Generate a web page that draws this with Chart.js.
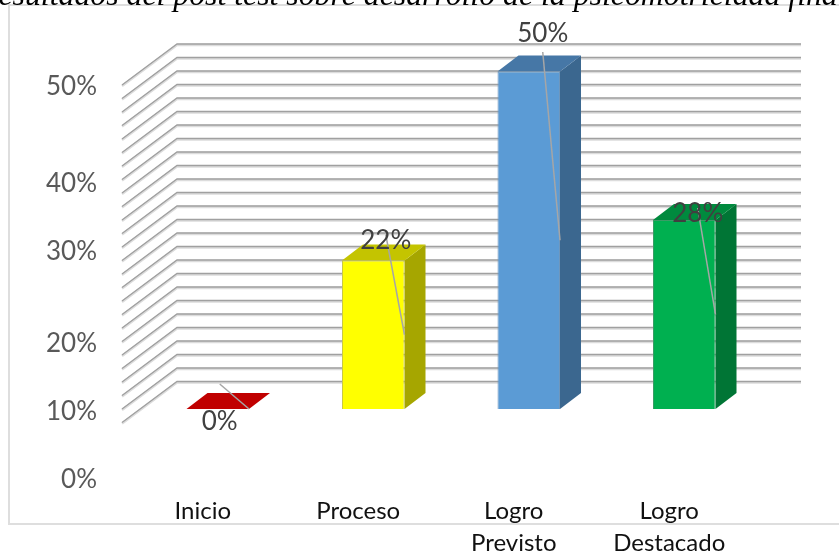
<!DOCTYPE html>
<html><head><meta charset="utf-8">
<style>html,body{margin:0;padding:0;background:#fff}canvas{display:block}</style>
<script src="https://cdn.jsdelivr.net/npm/chart.js@4"></script>
</head><body><canvas id="c" width="839" height="556"></canvas>
<script>
const titleText = "Resultados del post test sobre desarrollo de la psicomotricidad final";
const categories = [["Inicio"], ["Proceso"], ["Logro", "Previsto"], ["Logro", "Destacado"]];
const percentValues = [0, 22, 50, 28];
const frontColors = ["#c00000", "#ffff00", "#5b9bd5", "#00b050"];
const topColors = ["#c00000", "#c4c400", "#4677a6", "#008a3e"];
const sideColors = ["#8f0000", "#a6a600", "#3b678f", "#007535"];
const edgeColors = ["#a84a4a", "#c8c84a", "#6f97bd", "#3a9c66"];
const yTickValues = [47.7, 33.33, 23.26, 9.63, -0.45, -10.5];
const yTickLabels = ["50%", "40%", "30%", "20%", "10%", "0%"];
const gridValues = [-2, 0, 2, 4, 6, 8, 10, 12, 14, 16, 18, 20, 22, 24, 26, 28, 30, 32, 34, 36, 38, 40, 42, 44, 46, 48];
const labelShiftX = [2, 12.5, 14, 13.5];
const labelShiftY = [13, -20, -37.5, -6];
const leaderStartY = [-38, -6, 18, -6];

const wallDx = 55, wallDy = 41, barDx = 21, barDy = 16;

const depthPlugin = {
  id: "depth",
  beforeDatasetsDraw(chart) {
    const { ctx, chartArea, scales: { y } } = chart;
    ctx.save();
    // frame
    ctx.strokeStyle = "#dedede"; ctx.lineWidth = 2;
    ctx.beginPath(); ctx.moveTo(839, 5); ctx.lineTo(9, 5); ctx.lineTo(9, 524); ctx.lineTo(839, 524); ctx.stroke();
    // title
    ctx.fillStyle = "#000"; ctx.font = "italic 31.8px 'Liberation Serif'"; ctx.textAlign = "left"; ctx.textBaseline = "alphabetic";
    ctx.fillText(titleText, -21, 5);
    // perspective grid
    const fx = chartArea.left - 18, bx = fx + wallDx, rx = 801;
    gridValues.forEach(v => {
      const py = y.getPixelForValue(v);
      ctx.strokeStyle = "#dcdcdc"; ctx.lineWidth = 2.5;
      ctx.beginPath(); ctx.moveTo(fx, py + 1); ctx.lineTo(bx, py - wallDy + 1); ctx.lineTo(rx, py - wallDy + 1); ctx.stroke();
      ctx.strokeStyle = "#a0a0a0"; ctx.lineWidth = 1.3;
      ctx.beginPath(); ctx.moveTo(fx, py); ctx.lineTo(bx, py - wallDy); ctx.lineTo(rx, py - wallDy); ctx.stroke();
    });
    // bar depth faces
    chart.getDatasetMeta(0).data.forEach((bar, i) => {
      const l = bar.x - bar.width / 2, r = bar.x + bar.width / 2, t = bar.y, b = bar.base;
      ctx.fillStyle = sideColors[i];
      ctx.beginPath(); ctx.moveTo(r, t); ctx.lineTo(r + barDx, t - barDy); ctx.lineTo(r + barDx, b - barDy); ctx.lineTo(r, b); ctx.closePath(); ctx.fill();
      ctx.fillStyle = topColors[i];
      ctx.beginPath(); ctx.moveTo(l, t); ctx.lineTo(l + barDx, t - barDy); ctx.lineTo(r + barDx, t - barDy); ctx.lineTo(r, t); ctx.closePath(); ctx.fill();
    });
    ctx.restore();
  },
  afterDatasetsDraw(chart) {
    const { ctx } = chart;
    ctx.save();
    chart.getDatasetMeta(0).data.forEach((bar, i) => {
      const r = bar.x + bar.width / 2;
      const lx = bar.x + labelShiftX[i], ly = bar.y + labelShiftY[i];
      ctx.strokeStyle = "#a6a6a6"; ctx.lineWidth = 1.5;
      ctx.beginPath(); ctx.moveTo(lx, ly + leaderStartY[i]); ctx.lineTo(r, (bar.y + bar.base) / 2); ctx.stroke();
      ctx.fillStyle = "#404040"; ctx.font = "26px Lato"; ctx.textAlign = "center"; ctx.textBaseline = "middle";
      ctx.fillText(percentValues[i] + "%", lx, ly);
    });
    ctx.restore();
  }
};

new Chart(document.getElementById("c"), {
  type: "bar",
  data: {
    labels: categories,
    datasets: [{
      data: percentValues,
      backgroundColor: frontColors,
      borderColor: edgeColors,
      borderWidth: 1,
      barPercentage: 0.402,
      categoryPercentage: 1
    }]
  },
  plugins: [depthPlugin],
  options: {
    responsive: false,
    animation: false,
    layout: { padding: { top: 44.5, right: 77, left: 0, bottom: 0 } },
    plugins: { legend: { display: false }, title: { display: false }, tooltip: { enabled: false } },
    scales: {
      x: {
        grid: { display: false, drawTicks: false },
        border: { display: false },
        afterFit(s) { s.height = 66; s.paddingLeft = 0; s.paddingRight = 0; },
        ticks: { color: "#111", font: { family: "Lato", size: 24, lineHeight: 1.33 }, labelOffset: -15, padding: 5, maxRotation: 0, autoSkip: false }
      },
      y: {
        min: -12, max: 54,
        grid: { display: false, drawTicks: false },
        border: { display: false },
        afterBuildTicks(s) { s.ticks = yTickValues.map(value => ({ value })); },
        afterFit(s) { s.width = 140; s.paddingTop = 0; s.paddingBottom = 0; },
        ticks: {
          color: "#595959", font: { family: "Lato", size: 26 }, padding: 43, autoSkip: false,
          callback: v => yTickLabels[yTickValues.indexOf(v)]
        }
      }
    }
  }
});
</script></body></html>
